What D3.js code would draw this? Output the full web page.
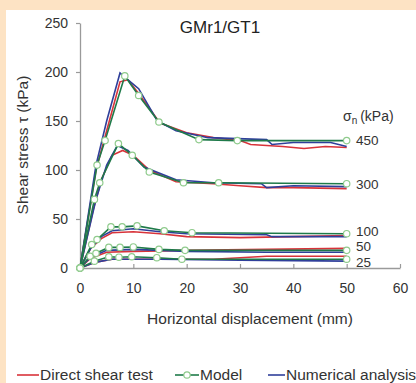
<!DOCTYPE html>
<html>
<head>
<meta charset="utf-8">
<script src="https://cdn.jsdelivr.net/npm/d3@7"></script>
<style>
  html, body { margin: 0; padding: 0; background: #fde3c4; }
  svg { display: block; font-family: 'Liberation Sans', Arial, sans-serif; }
</style>
</head>
<body>
<svg width="416" height="383"></svg>
<script>
const width = 416
const height = 383

// normal stress levels (kPa)
const stressLevels = ['450', '300', '100', '50', '25']

// Direct shear test, [displacement mm, shear stress kPa]
const testData = [
  [[0,0],[3,100],[5,140],[7.5,190],[9,192],[11,178],[15,148],[20,138],[25,133],[30,130],[32,126],[38,124],[42,122],[46,124],[50,123]],
  [[0,0],[2.5,60],[4,90],[6,115],[8,120],[10,115],[13,100],[18,88],[25,86],[30,84],[35,82],[40,82],[50,81]],
  [[0,0],[2,20],[4,30],[6,36],[10,37],[15,35],[20,32],[30,31],[40,32],[50,33]],
  [[0,0],[2,10],[5,16],[10,17],[20,18],[35,19],[50,20]],
  [[0,0],[3,6],[6,9],[15,9],[25,9],[35,12],[50,12]]
]

// Numerical analysis
const numericalData = [
  [[0,0],[3,105],[5,150],[7.5,199],[9,192],[11,183],[14.5,150],[18,140],[24,133],[35,131],[36,126],[40,128],[47,128],[50,124]],
  [[0,0],[3,70],[5,105],[7,125],[9,120],[12,103],[18,90],[25,87],[34,86],[35,82],[40,84],[50,83]],
  [[0,0],[2,20],[4,32],[6,38],[10,40],[15,37],[20,35],[35,34],[36,32],[50,32]],
  [[0,0],[2,11],[5,18],[10,19],[20,17],[35,16],[50,16]],
  [[0,0],[3,6],[6,9],[15,9],[30,8],[50,7]]
]

// Model
const modelData = [
  [[0,0],[3.2,105],[4.7,130],[8.4,196],[11,176],[14.8,149],[22.3,131],[29.5,130],[50,130]],
  [[0,0],[2.7,70],[3.7,87],[7.2,127],[9.8,115],[13,98],[19.4,87],[26,87],[50,86]],
  [[0,0],[2.2,24],[3.2,29],[5.8,42],[7.9,42],[10.7,43],[15.8,38],[21,36],[50,35]],
  [[0,0],[1.9,12],[3,15],[5.4,21],[7.5,21],[10,21.5],[14.8,19],[19.7,18],[50,18]],
  [[0,0],[2.7,7],[5.4,11.5],[7.3,11],[9.7,11.5],[14.4,10.5],[19.1,9],[50,9]]
]

// where the stress level labels sit (kPa on the y scale)
const labelY = [130, 85, 37, 22, 6]

const xTicks = [0, 10, 20, 30, 40, 50, 60]
const yTicks = [0, 50, 100, 150, 200, 250]

const colors = { test: '#d8333a', model: '#1f7a4a', numerical: '#2f3f9a' }

const svg = d3.select('svg')

// white panel on the peach frame
svg.append('rect')
  .attr('x', 6).attr('y', 10)
  .attr('width', width - 6).attr('height', height - 10)
  .attr('fill', '#fff')

const x = d3.scaleLinear().domain([0, 60]).range([80, 400])
const y = d3.scaleLinear().domain([0, 250]).range([268, 23])

const xAxis = svg.append('g')
  .attr('transform', `translate(0,${y(0)})`)
  .call(d3.axisBottom(x).tickValues(xTicks).tickSizeInner(-4).tickSizeOuter(0).tickPadding(15))
const yAxis = svg.append('g')
  .attr('transform', `translate(${x(0)},0)`)
  .call(d3.axisLeft(y).tickValues(yTicks).tickSizeInner(4).tickSizeOuter(0).tickPadding(8))

;[xAxis, yAxis].forEach(ax => {
  ax.select('.domain').attr('stroke', '#9a9a9a').attr('stroke-width', 1.3)
  ax.selectAll('.tick line').attr('stroke', '#9a9a9a').attr('stroke-width', 1.2)
  ax.selectAll('.tick text').attr('fill', '#333').attr('font-size', 14).attr('font-family', null)
})

const line = d3.line().x(d => x(d[0])).y(d => y(d[1]))

const curves = svg.append('g').attr('fill', 'none').attr('stroke-width', 1.6)

curves.selectAll('.test').data(testData).join('path')
  .attr('class', 'test').attr('stroke', colors.test).attr('d', line)
curves.selectAll('.num').data(numericalData).join('path')
  .attr('class', 'num').attr('stroke', colors.numerical).attr('d', line)
curves.selectAll('.model').data(modelData).join('path')
  .attr('class', 'model').attr('stroke', colors.model).attr('d', line)

svg.append('g')
  .selectAll('circle')
  .data(modelData.flat())
  .join('circle')
  .attr('cx', d => x(d[0]))
  .attr('cy', d => y(d[1]))
  .attr('r', 3.2)
  .attr('fill', '#fff')
  .attr('stroke', '#8fcb8c')
  .attr('stroke-width', 1.2)

// stress level labels
svg.append('g')
  .selectAll('text')
  .data(stressLevels)
  .join('text')
  .attr('x', 356)
  .attr('y', (d, i) => y(labelY[i]))
  .attr('dy', '0.35em')
  .attr('font-size', 13.5)
  .attr('fill', '#333')
  .text(d => d)

const sig = svg.append('text')
  .attr('x', 343).attr('y', 121)
  .attr('font-size', 14).attr('fill', '#333')
sig.append('tspan').text('σ')
sig.append('tspan').attr('font-size', 10).attr('dy', 3).text('n')
sig.append('tspan').attr('dy', -3).attr('dx', 3).text('(kPa)')

// titles
svg.append('text')
  .attr('x', 220).attr('y', 33)
  .attr('text-anchor', 'middle')
  .attr('font-size', 17).attr('fill', '#222')
  .text('GMr1/GT1')

svg.append('text')
  .attr('x', 250).attr('y', 324)
  .attr('text-anchor', 'middle')
  .attr('font-size', 15.5).attr('fill', '#333')
  .text('Horizontal displacement (mm)')

svg.append('text')
  .attr('transform', 'translate(28,145) rotate(-90)')
  .attr('text-anchor', 'middle')
  .attr('font-size', 15.5).attr('fill', '#333')
  .text('Shear stress τ (kPa)')

// legend
const legendItems = [
  { label: 'Direct shear test', color: colors.test, x0: 17, x1: 39, marker: false },
  { label: 'Model', color: colors.model, x0: 175, x1: 199, marker: true },
  { label: 'Numerical analysis', color: colors.numerical, x0: 268, x1: 285, marker: false }
]
const legend = svg.append('g')
legendItems.forEach(it => {
  legend.append('line')
    .attr('x1', it.x0).attr('x2', it.x1)
    .attr('y1', 375).attr('y2', 375)
    .attr('stroke', it.color).attr('stroke-width', 1.6)
  if (it.marker) {
    legend.append('circle')
      .attr('cx', (it.x0 + it.x1) / 2).attr('cy', 375).attr('r', 3.2)
      .attr('fill', '#fff').attr('stroke', '#8fcb8c').attr('stroke-width', 1.2)
  }
  legend.append('text')
    .attr('x', it.x1 + 1).attr('y', 380)
    .attr('font-size', 15.5).attr('fill', '#333')
    .text(it.label)
})
</script>
</body>
</html>
